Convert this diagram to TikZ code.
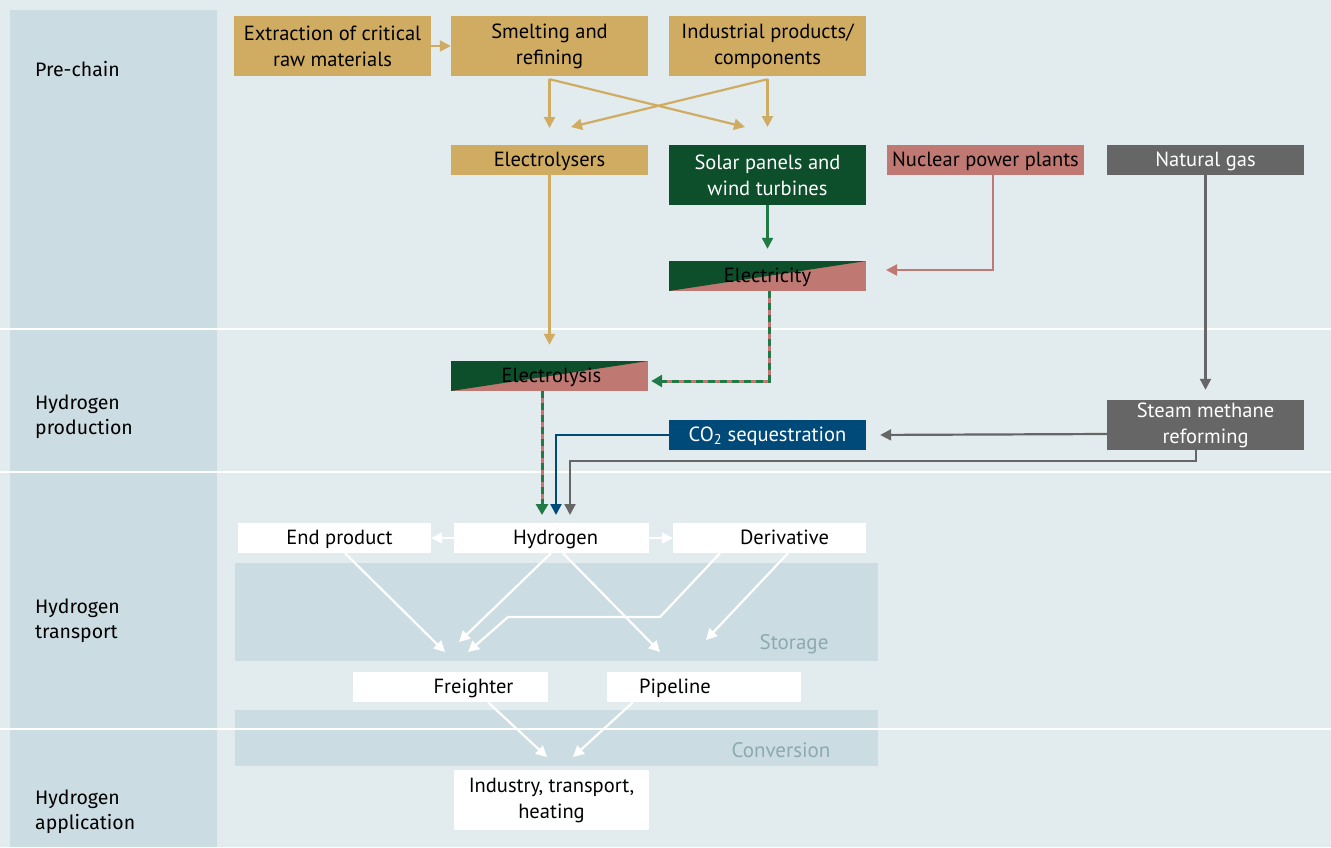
\documentclass[tikz,border=0pt]{standalone}
\usepackage{fontspec}
\setmainfont{PT Sans}
\newfontfamily\sidefont{Fira Sans}
\usetikzlibrary{arrows.meta,calc}
\definecolor{bgc}{HTML}{E2EBEE}
\definecolor{band}{HTML}{CBDCE2}
\definecolor{gold}{HTML}{CFAC62}
\definecolor{dgreen}{HTML}{0C4F2A}
\definecolor{lgreen}{HTML}{1F7A45}
\definecolor{rose}{HTML}{C07872}
\definecolor{gry}{HTML}{666666}
\definecolor{navy}{HTML}{004A7A}
\definecolor{faint}{HTML}{8DA9B1}
\tikzset{
  box/.style={minimum width=197pt, minimum height=30pt, inner sep=0pt, align=center,
    font=\fontsize{20.5}{26}\selectfont},
  one/.style={text height=13.5pt, text depth=0pt},
  tall/.style={minimum height=60pt},
  wbox/.style={box, fill=white},
  arr/.style={line width=2.2pt, -{Triangle[length=11pt,width=11pt]}},
  sidelabel/.style={anchor=north west, align=left, inner sep=0pt, font=\sidefont\fontsize{19.5}{25}\selectfont},
  bandlabel/.style={text=faint, inner sep=0pt, font=\fontsize{21}{24}\selectfont},
  split/.style={fill=rose, path picture={\fill[dgreen] (path picture bounding box.south west) -- (path picture bounding box.north west) -- (path picture bounding box.north east) -- cycle;}},
}
\begin{document}
\begin{tikzpicture}[x=1pt,y=-1pt]
\useasboundingbox (0,0) rectangle (1331,847);
\fill[bgc] (0,0) rectangle (1331,847);
\fill[band] (10,10) rectangle (217,847);
\fill[band] (235,563) rectangle (878,661);
\fill[band] (235,710) rectangle (878,766);
\foreach \yy in {329,472,729} \draw[white, line width=2.5pt] (0,\yy) -- (1331,\yy);
\node[bandlabel] (storage) at (794,644) {Storage};
\node[bandlabel] (conversion) at (781,750) {Conversion};

\node[sidelabel] (s1) at (35,61) {Pre-chain};
\node[sidelabel] (s2) at (35,395) {Hydrogen\\production};
\node[sidelabel] (s3) at (35,599) {Hydrogen\\transport};
\node[sidelabel] (s4) at (35,790) {Hydrogen\\application};

% boxes
\node[box,tall,fill=gold] (extr) at (332.5,46) {Extraction of critical\\raw materials};
\node[box,tall,fill=gold] (smelt) at (549.5,46) {Smelting and\\refining};
\node[box,tall,fill=gold] (indus) at (767.5,46) {Industrial products/\\components};
\node[box,one,fill=gold] (elys) at (549.5,160) {Electrolysers};
\node[box,tall,fill=dgreen,text=white] (solar) at (767.5,175) {Solar panels and\\wind turbines};
\node[box,one,fill=rose] (nuclear) at (985.5,160) {Nuclear power plants};
\node[box,one,fill=gry,text=white] (gas) at (1205.5,160) {Natural gas};
\node[box,one,split] (elec) at (767.5,276) {Electricity};
\node[box,one,split] (elysis) at (549.5,376) {\hspace*{4pt}Electrolysis};
\node[box,minimum height=50pt,fill=gry,text=white] (smr) at (1205.5,425) {Steam methane\\reforming};
\node[box,one,fill=navy,text=white] (co2) at (767.5,435) {CO\textsubscript{2} sequestration};

\node[wbox,one,minimum width=193pt] (endp) at (334.5,538) {\hspace*{10pt}End product};
\node[wbox,one,minimum width=195pt] (hyd) at (551.5,538) {\hspace*{8pt}Hydrogen};
\node[wbox,one,minimum width=193pt] (deriv) at (769.5,538) {\hspace*{30pt}Derivative};
\node[wbox,one,minimum width=195pt] (freight) at (450.5,687) {\hspace*{46pt}Freighter};
\node[wbox,one,minimum width=194pt] (pipe) at (704,687) {Pipeline\hspace*{58pt}};
\node[wbox,minimum width=195pt,tall] (ind) at (551.5,800) {Industry, transport,\\heating};

% free ends
\coordinate (g1) at (549.5,128);
\coordinate (g2) at (745,127);
\coordinate (g3) at (767.5,127);
\coordinate (g4) at (571,127);
\coordinate (nucT) at (886,270);
\coordinate (w1) at (445,652);
\coordinate (w2) at (459,642);
\coordinate (w3) at (660,652);
\coordinate (w4) at (468,652);
\coordinate (w5) at (706,640);
\coordinate (w6) at (547,757);
\coordinate (w7) at (573,757);

% gold arrows
\begin{scope}[gold]
\draw[arr] (extr.east) -- (smelt.west);
\draw[arr] ([yshift=-3]smelt.south) -- (g1);
\draw[arr] ([yshift=-3]smelt.south) -- (g2);
\draw[arr] ([yshift=-3]indus.south) -- (g3);
\draw[arr] ([yshift=-3]indus.south) -- (g4);
\draw[arr,shorten >=16pt] (elys.south) -- (elysis.north);
\end{scope}
\draw[arr,lgreen,shorten >=12pt] (solar.south) -- (elec.north);
\draw[arr,rose] ([xshift=7.5]nuclear.south) |- (nucT);

% dashed green/rose
\coordinate (e1) at ([xshift=1.5]elec.south);
\coordinate (e2) at ($(elysis.east)+(3,5)$);
\draw[rose,line width=3pt] (e1) |- ($(e2)+(8,0)$);
\draw[lgreen,line width=3pt,dash pattern=on 7pt off 5pt,-{Triangle[length=11pt,width=12pt]}] (e1) |- (e2);
\coordinate (h1) at (542,515);
\draw[rose,line width=3pt] ([xshift=-7.5]elysis.south) -- ($(h1)+(0,-8)$);
\draw[lgreen,line width=3pt,dash pattern=on 7pt off 5pt,-{Triangle[length=11pt,width=12pt]}] ([xshift=-7.5]elysis.south) -- (h1);

% blue
\draw[arr,navy] (co2.west) -| (556,515);
% gray
\draw[arr,gry] ([xshift=-9.5]smr.south) -- ++(0,11) -| (570,515);
\draw[arr,gry,shorten >=10pt] (gas.south) -- (smr.north);
\draw[arr,gry,shorten >=14pt] ([yshift=-9]smr.west) -- (co2.east);

% white arrows
\begin{scope}[white]
\draw[arr] (hyd.west) -- (endp.east);
\draw[arr] (hyd.east) -- (deriv.west);
\draw[arr] ([xshift=10.5]endp.south) -- (w1);
\draw[arr] ([xshift=-0.5]hyd.south) -- (w2);
\draw[arr] ([xshift=11.5]hyd.south) -- (w3);
\draw[arr] ([xshift=-49.5]deriv.south) -- (660,617) -- (508,617) -- (w4);
\draw[arr] ([xshift=18.5]deriv.south) -- (w5);
\draw[arr] ([xshift=37.5]freight.south) -- (w6);
\draw[arr] ([xshift=-71]pipe.south) -- (w7);
\end{scope}
\end{tikzpicture}
\end{document}
